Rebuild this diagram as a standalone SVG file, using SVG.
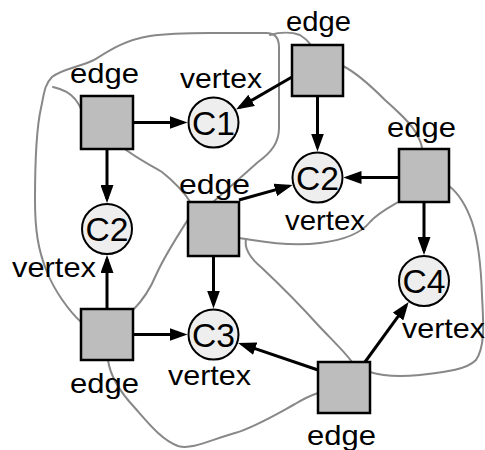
<svg xmlns="http://www.w3.org/2000/svg" width="485" height="450" viewBox="0 0 485 450">
  <style>
    .region { fill: none; stroke: #888888; stroke-width: 2; stroke-linecap: round; }
    .arrow { fill: none; stroke: #000000; stroke-width: 3; marker-end: url(#head); }
    .edge rect { fill: #bdbdbd; stroke: #000000; stroke-width: 2.5; }
    .vertex circle { fill: #eeeeee; stroke: #000000; stroke-width: 2; }
    .lbl { font-family: "Liberation Sans", Arial, sans-serif; font-size: 28px; fill: #000000; }
    .cid { font-family: "Liberation Sans", Arial, sans-serif; font-size: 33px; fill: #000000; text-anchor: middle; }
  </style>
  <defs>
    <marker id="head" markerUnits="userSpaceOnUse" markerWidth="18" markerHeight="13" refX="14" refY="6.5" orient="auto">
      <path d="M0,0 L18,6.5 L0,13 z" fill="#000000"/>
    </marker>
  </defs>
  <rect width="485" height="450" fill="#ffffff"/>

  <!-- hyperedge region outlines -->
  <g id="regions">
    <path class="region" d="M81,322 C70,312 55,292 47,272 C38,250 35,230 35,200 C35,170 36,130 41,108 C44,95 44,85 52,77 C62,69 80,67 94,60 C110,50 125,40 150,36 C170,33 190,33 210,33 L266,33 C275,33 279,38 279,47 L279,128 C279,142 272,152 258,162 L212,203"/>
    <path class="region" d="M189,218 C180,232 165,255 156,275 C149,292 141,302 133,310"/>
    <path class="region" d="M53,87 C62,89 70,93 75,99 C78,103 80,106 81,109"/>
    <path class="region" d="M125,149 C135,157 150,165 162,172 C172,180 184,192 191,203"/>
    <path class="region" d="M270,35 C280,32 292,32 300,35 C305,38 308,41 311,45"/>
    <path class="region" d="M343,66 C355,72 370,85 385,100 C398,112 410,122 416,133 C420,140 422,145 422,149"/>
    <path class="region" d="M449,186 C458,193 466,205 472,222 C478,240 481,265 482,295 C483,320 486,345 476,360 C466,370 445,372 420,375 C400,377 382,376 370,372"/>
    <path class="region" d="M400,201 C388,208 378,213 370,222 C362,232 345,240 320,243 C295,246 270,243 252,240 L239,238"/>
    <path class="region" d="M246,239 C244,248 250,258 262,268 C280,285 300,305 318,325 C332,340 345,352 352,362"/>
    <path class="region" d="M108,360 C110,375 120,392 135,408 C150,425 162,440 178,446 C192,450 210,440 235,433 C255,427 275,415 295,404 C305,398 312,395 318,393"/>
  </g>

  <!-- connectors: edge -> vertex -->
  <g id="connectors">
    <path class="arrow" d="M133,122.5 L183.5,122.5"/>
    <path class="arrow" d="M107,149 L107,199"/>
    <path class="arrow" d="M292,77 L239.5,107.4"/>
    <path class="arrow" d="M317.5,96 L317.5,147.5"/>
    <path class="arrow" d="M399,177.5 L347.5,177.5"/>
    <path class="arrow" d="M424,202 L424,251"/>
    <path class="arrow" d="M239,200 L288.8,186.1"/>
    <path class="arrow" d="M213.5,256 L213.5,304.5"/>
    <path class="arrow" d="M107,309 L107,259"/>
    <path class="arrow" d="M133,334.5 L183.5,334.5"/>
    <path class="arrow" d="M318,370 L241.9,344.2"/>
    <path class="arrow" d="M365,362 L406.3,305.2"/>
  </g>

  <!-- edge nodes -->
  <g id="edge1" class="edge">
    <rect x="81" y="96" width="52" height="53"/>
    <text class="lbl" x="70" y="83" textLength="69" lengthAdjust="spacingAndGlyphs">edge</text>
  </g>
  <g id="edge2" class="edge">
    <rect x="292" y="45" width="51" height="51"/>
    <text class="lbl" x="286" y="31" textLength="65" lengthAdjust="spacingAndGlyphs">edge</text>
  </g>
  <g id="edge3" class="edge">
    <rect x="399" y="149" width="50" height="53"/>
    <text class="lbl" x="387" y="137" textLength="69" lengthAdjust="spacingAndGlyphs">edge</text>
  </g>
  <g id="edge4" class="edge">
    <rect x="188" y="202" width="51" height="54"/>
    <text class="lbl" x="179" y="194" textLength="71" lengthAdjust="spacingAndGlyphs">edge</text>
  </g>
  <g id="edge5" class="edge">
    <rect x="81" y="309" width="52" height="51"/>
    <text class="lbl" x="70" y="393" textLength="69" lengthAdjust="spacingAndGlyphs">edge</text>
  </g>
  <g id="edge6" class="edge">
    <rect x="318" y="362" width="52" height="51"/>
    <text class="lbl" x="307" y="445" textLength="69" lengthAdjust="spacingAndGlyphs">edge</text>
  </g>

  <!-- vertex nodes -->
  <g id="vertexC1" class="vertex">
    <circle cx="213.5" cy="122.5" r="25"/>
    <text class="cid" x="213.5" y="134.5" textLength="43" lengthAdjust="spacingAndGlyphs">C1</text>
    <text class="lbl" x="180" y="88" textLength="82" lengthAdjust="spacingAndGlyphs">vertex</text>
  </g>
  <g id="vertexC2a" class="vertex">
    <circle cx="107" cy="229" r="25"/>
    <text class="cid" x="107" y="241" textLength="43" lengthAdjust="spacingAndGlyphs">C2</text>
    <text class="lbl" x="12" y="277" textLength="84" lengthAdjust="spacingAndGlyphs">vertex</text>
  </g>
  <g id="vertexC2b" class="vertex">
    <circle cx="317.5" cy="177.5" r="25"/>
    <text class="cid" x="317.5" y="189.5" textLength="43" lengthAdjust="spacingAndGlyphs">C2</text>
    <text class="lbl" x="285" y="230" textLength="80" lengthAdjust="spacingAndGlyphs">vertex</text>
  </g>
  <g id="vertexC3" class="vertex">
    <circle cx="213.5" cy="334.5" r="25"/>
    <text class="cid" x="213.5" y="346.5" textLength="43" lengthAdjust="spacingAndGlyphs">C3</text>
    <text class="lbl" x="168" y="385" textLength="83" lengthAdjust="spacingAndGlyphs">vertex</text>
  </g>
  <g id="vertexC4" class="vertex">
    <circle cx="424" cy="281" r="25"/>
    <text class="cid" x="424" y="293" textLength="43" lengthAdjust="spacingAndGlyphs">C4</text>
    <text class="lbl" x="402" y="338" textLength="83" lengthAdjust="spacingAndGlyphs">vertex</text>
  </g>
</svg>
